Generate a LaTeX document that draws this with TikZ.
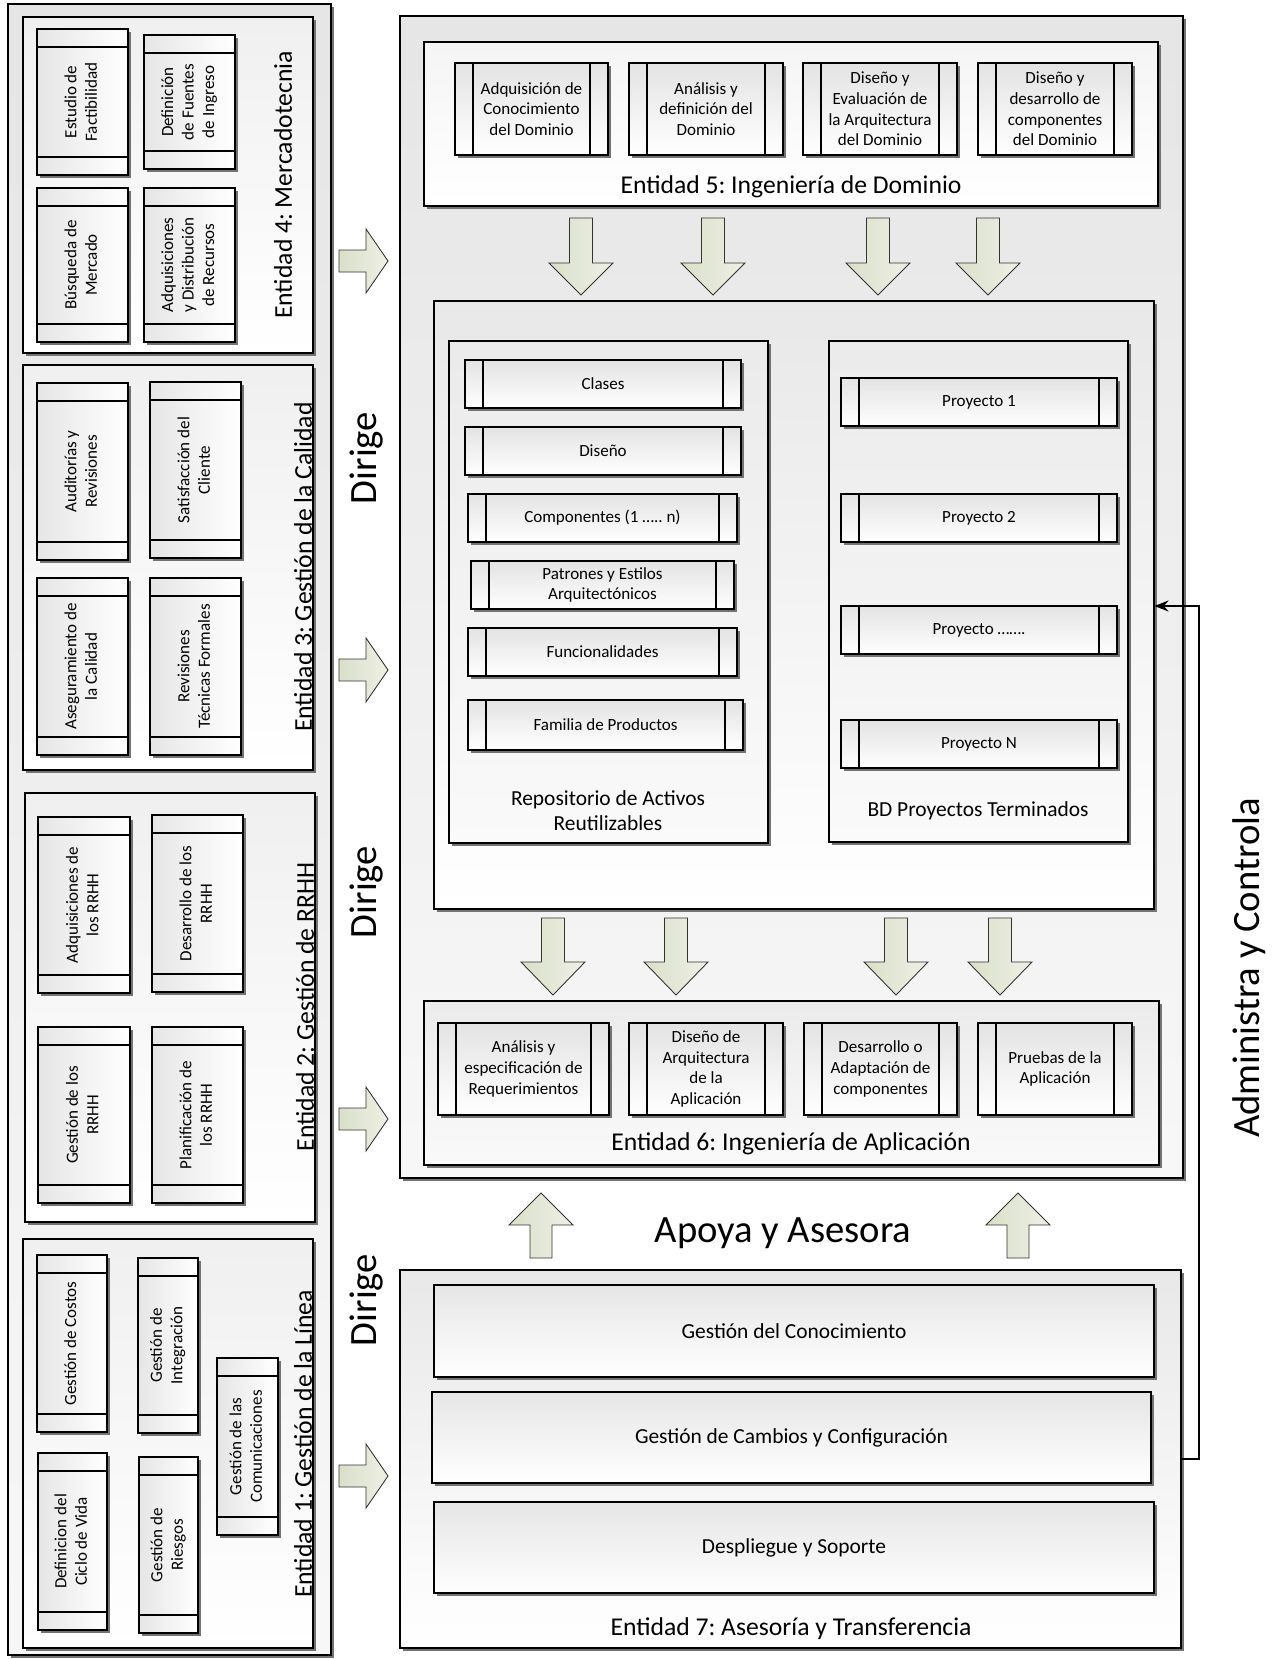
\documentclass[tikz,border=0pt]{standalone}
\usepackage{fontspec}
\setmainfont{Carlito}
\frenchspacing
\usetikzlibrary{shadows,arrows.meta}
\definecolor{arrowdark}{RGB}{218,223,201}
\definecolor{arrowlight}{RGB}{238,240,229}
\newcommand{\vtxt}[1]{\rotatebox{90}{\begin{tabular}{@{}c@{}}#1\end{tabular}}}
\tikzset{
  corners/.style args={#1/#2/#3/#4}{at={({(#1+#3)/2},{(#2+#4)/2})},
    minimum width={(#3-#1)*0.02cm},minimum height={(#4-#2)*0.02cm}},
  itemtxt/.style={font=\fontsize{9.7}{11.7}\selectfont},
  titletxt/.style={font=\fontsize{14.6}{17.5}\selectfont},
  subtitletxt/.style={font=\fontsize{12.2}{14.2}\selectfont},
  bigtxt/.style={font=\fontsize{22}{26}\selectfont},
  shadowed/.style={drop shadow={shadow xshift=0.6mm,shadow yshift=-0.6mm,fill=black!55,opacity=1}},
  panel/.style={draw,line width=0.6pt,shadowed,inner sep=0pt,top color=black!10,bottom color=black!3},
  procbox/.style={draw,line width=0.6pt,shadowed,inner sep=0pt,align=center,itemtxt,
    top color=black!11,bottom color=white,
    path picture={
      \draw[line width=0.6pt] ([xshift=0.36cm]path picture bounding box.north west) -- ([xshift=0.36cm]path picture bounding box.south west);
      \draw[line width=0.6pt] ([xshift=-0.36cm]path picture bounding box.north east) -- ([xshift=-0.36cm]path picture bounding box.south east);}},
  vprocbox/.style={draw,line width=0.6pt,shadowed,inner sep=0pt,itemtxt,
    left color=black!10,right color=white,
    path picture={
      \draw[line width=0.6pt] ([yshift=-0.36cm]path picture bounding box.north west) -- ([yshift=-0.36cm]path picture bounding box.north east);
      \draw[line width=0.6pt] ([yshift=0.36cm]path picture bounding box.south west) -- ([yshift=0.36cm]path picture bounding box.south east);}},
  blockarrow/.style={draw=black!80,line width=0.5pt,left color=arrowdark,right color=arrowlight},
  ctrl/.style={line width=0.8pt,-{Stealth[length=2.8mm,width=2.2mm]}}
}
\begin{document}
\begin{tikzpicture}[x=0.02cm,y=-0.02cm]
\useasboundingbox (0,0) rectangle (1274,1659);

% columna izquierda
\node[panel,corners=8/4/331/1655] (izq) {};

% Entidad 4
\node[panel,top color=black!6,bottom color=white,corners=23/17/313/353] (e4) {};
\node[vprocbox,corners=37/29/128/175] (est) {\vtxt{Estudio de\\Factibilidad}};
\node[vprocbox,corners=144/35/235/169] (def) {\vtxt{Definición\\de Fuentes\\de Ingreso}};
\node[vprocbox,corners=37/188/128/342] (bus) {\vtxt{Búsqueda de\\Mercado}};
\node[vprocbox,corners=144/188/235/342] (adq) {\vtxt{Adquisiciones\\y Distribución\\de Recursos}};
\node[titletxt,rotate=90] (e4t) at (283,185) {Entidad 4: Mercadotecnia};

% Entidad 3
\node[panel,top color=black!6,bottom color=white,corners=23/365/313/770] (e3) {};
\node[vprocbox,corners=37/383/128/560] (aud) {\vtxt{Auditorías y\\Revisiones}};
\node[vprocbox,corners=150/382/241/558] (sat) {\vtxt{Satisfacción del\\Cliente}};
\node[vprocbox,corners=37/578/128/755] (ase) {\vtxt{Aseguramiento de\\la Calidad}};
\node[vprocbox,corners=150/578/241/755] (rtf) {\vtxt{Revisiones\\Técnicas Formales}};
\node[titletxt,rotate=90] (e3t) at (303,567) {Entidad 3: Gestión de la Calidad};

% Entidad 2
\node[panel,top color=black!6,bottom color=white,corners=25/793/315/1222] (e2) {};
\node[vprocbox,corners=38/817/130/993] (arh) {\vtxt{Adquisiciones de\\los RRHH}};
\node[vprocbox,corners=152/815/243/992] (drh) {\vtxt{Desarrollo de los\\RRHH}};
\node[vprocbox,corners=38/1027/130/1203] (grh) {\vtxt{Gestión de los\\RRHH}};
\node[vprocbox,corners=152/1027/243/1203] (prh) {\vtxt{Planificación de\\los RRHH}};
\node[titletxt,rotate=90] (e2t) at (305,1007) {Entidad 2: Gestión de RRHH};

% Entidad 1
\node[panel,top color=black!6,bottom color=white,corners=23/1239/313/1648] (e1) {};
\node[vprocbox,corners=37/1255/107/1432] (cos) {\vtxt{Gestión de Costos}};
\node[vprocbox,corners=138/1258/198/1433] (int) {\vtxt{Gestión de\\Integración}};
\node[vprocbox,corners=217/1358/278/1535] (com) {\vtxt{Gestión de las\\Comunicaciones}};
\node[vprocbox,corners=38/1453/107/1630] (cic) {\vtxt{Definicion del\\Ciclo de Vida}};
\node[vprocbox,corners=139/1457/198/1633] (rie) {\vtxt{Gestión de\\Riesgos}};
\node[titletxt,rotate=90] (e1t) at (303,1444) {Entidad 1: Gestión de la Línea};

% flechas Dirige
\foreach \cy in {261,670,1119,1476}
  \draw[blockarrow] (339,\cy-11) -- (366,\cy-11) -- (366,\cy-32) -- (388,\cy) -- (366,\cy+32) -- (366,\cy+11) -- (339,\cy+11) -- cycle;
\node[bigtxt,rotate=90] (dir1) at (367,458) {Dirige};
\node[bigtxt,rotate=90] (dir2) at (367,892) {Dirige};
\node[bigtxt,rotate=90] (dir3) at (367,1300) {Dirige};

% bloque principal
\node[panel,corners=400/16/1183/1178] (main) {};

% Entidad 5
\node[panel,top color=black!4,bottom color=white,corners=424/42/1158/206] (e5) {};
\node[procbox,corners=455/63/608/155] (d1) {Adquisición de\\Conocimiento\\del Dominio};
\node[procbox,corners=629/63/783/155] (d2) {Análisis y\\definición del\\Dominio};
\node[procbox,corners=803/63/957/155] (d3) {Diseño y\\Evaluación de\\la Arquitectura\\del Dominio};
\node[procbox,corners=978/63/1132/155] (d4) {Diseño y\\desarrollo de\\componentes\\del Dominio};
\node[titletxt] (e5t) at (791,187) {Entidad 5: Ingeniería de Dominio};

\foreach \cx in {581,713,878,988}
  \draw[blockarrow] (\cx-11.5,218) -- (\cx+11.5,218) -- (\cx+11.5,263) -- (\cx+32,263) -- (\cx,295) -- (\cx-32,263) -- (\cx-11.5,263) -- cycle;

% activos y proyectos
\node[panel,top color=black!9,bottom color=white,corners=434/301/1154/909] (mid) {};
\node[panel,top color=black!8,bottom color=black!2,corners=449/341/768/843] (rep) {};
\node[procbox,corners=465/360/741/408] (cla) {Clases};
\node[procbox,corners=465/427/741/475] (dis) {Diseño};
\node[procbox,corners=468/494/737/542] (cmp) {Componentes (1 ….. n)};
\node[procbox,corners=471/561/734/609] (pat) {Patrones y Estilos\\Arquitectónicos};
\node[procbox,corners=468/628/737/676] (fun) {Funcionalidades};
\node[procbox,corners=468/700/743/750] (fam) {Familia de Productos};
\node[subtitletxt,align=center] (rept) at (608,811) {Repositorio de Activos\\Reutilizables};

\node[panel,top color=black!8,bottom color=black!2,corners=829/341/1128/842] (bd) {};
\node[procbox,corners=841/378/1117/426] (p1) {Proyecto 1};
\node[procbox,corners=841/494/1117/542] (p2) {Proyecto 2};
\node[procbox,corners=841/606/1117/654] (pp) {Proyecto …….};
\node[procbox,corners=841/720/1117/768] (pn) {Proyecto N};
\node[subtitletxt] (bdt) at (978,811) {BD Proyectos Terminados};

\foreach \cx in {553,676,896,1000}
  \draw[blockarrow] (\cx-11.5,918) -- (\cx+11.5,918) -- (\cx+11.5,962) -- (\cx+32,962) -- (\cx,995) -- (\cx-32,962) -- (\cx-11.5,962) -- cycle;

% Entidad 6
\node[panel,top color=black!8,bottom color=black!2,corners=424/1001/1159/1165] (e6) {};
\node[procbox,corners=438/1023/609/1115] (ap1) {Análisis y\\especificación de\\Requerimientos};
\node[procbox,corners=629/1023/783/1115] (ap2) {Diseño de\\Arquitectura\\de la\\Aplicación};
\node[procbox,corners=804/1023/957/1115] (ap3) {Desarrollo o\\Adaptación de\\componentes};
\node[procbox,corners=978/1023/1132/1115] (ap4) {Pruebas de la\\Aplicación};
\node[titletxt] (e6t) at (791,1144) {Entidad 6: Ingeniería de Aplicación};

% Apoya y Asesora
\foreach \cx in {541,1018}
  \draw[blockarrow] (\cx-11,1258) -- (\cx+11,1258) -- (\cx+11,1225) -- (\cx+32,1225) -- (\cx,1193) -- (\cx-32,1225) -- (\cx-11,1225) -- cycle;
\node[bigtxt] (apo) at (783,1233) {Apoya y Asesora};

% Entidad 7
\node[panel,top color=black!9,bottom color=white,corners=400/1270/1181/1648] (e7) {};
\node[panel,top color=black!10,bottom color=white,subtitletxt,corners=434/1285/1154/1377] (gco) {Gestión del Conocimiento};
\node[panel,top color=black!10,bottom color=white,subtitletxt,corners=432/1392/1151/1483] (gca) {Gestión de Cambios y Configuración};
\node[panel,top color=black!10,bottom color=white,subtitletxt,corners=434/1502/1154/1593] (des) {Despliegue y Soporte};
\node[titletxt] (e7t) at (791,1629) {Entidad 7: Asesoría y Transferencia};

% Administra y Controla
\coordinate (adm1) at (1199,1459);
\coordinate (adm2) at (1199,606);
\draw[ctrl] (e7.east |- adm1) -- (adm1) -- (adm2) -- (mid.east |- adm2);
\node[bigtxt,rotate=90] (adm) at (1249,968) {Administra y Controla};
\end{tikzpicture}
\end{document}
